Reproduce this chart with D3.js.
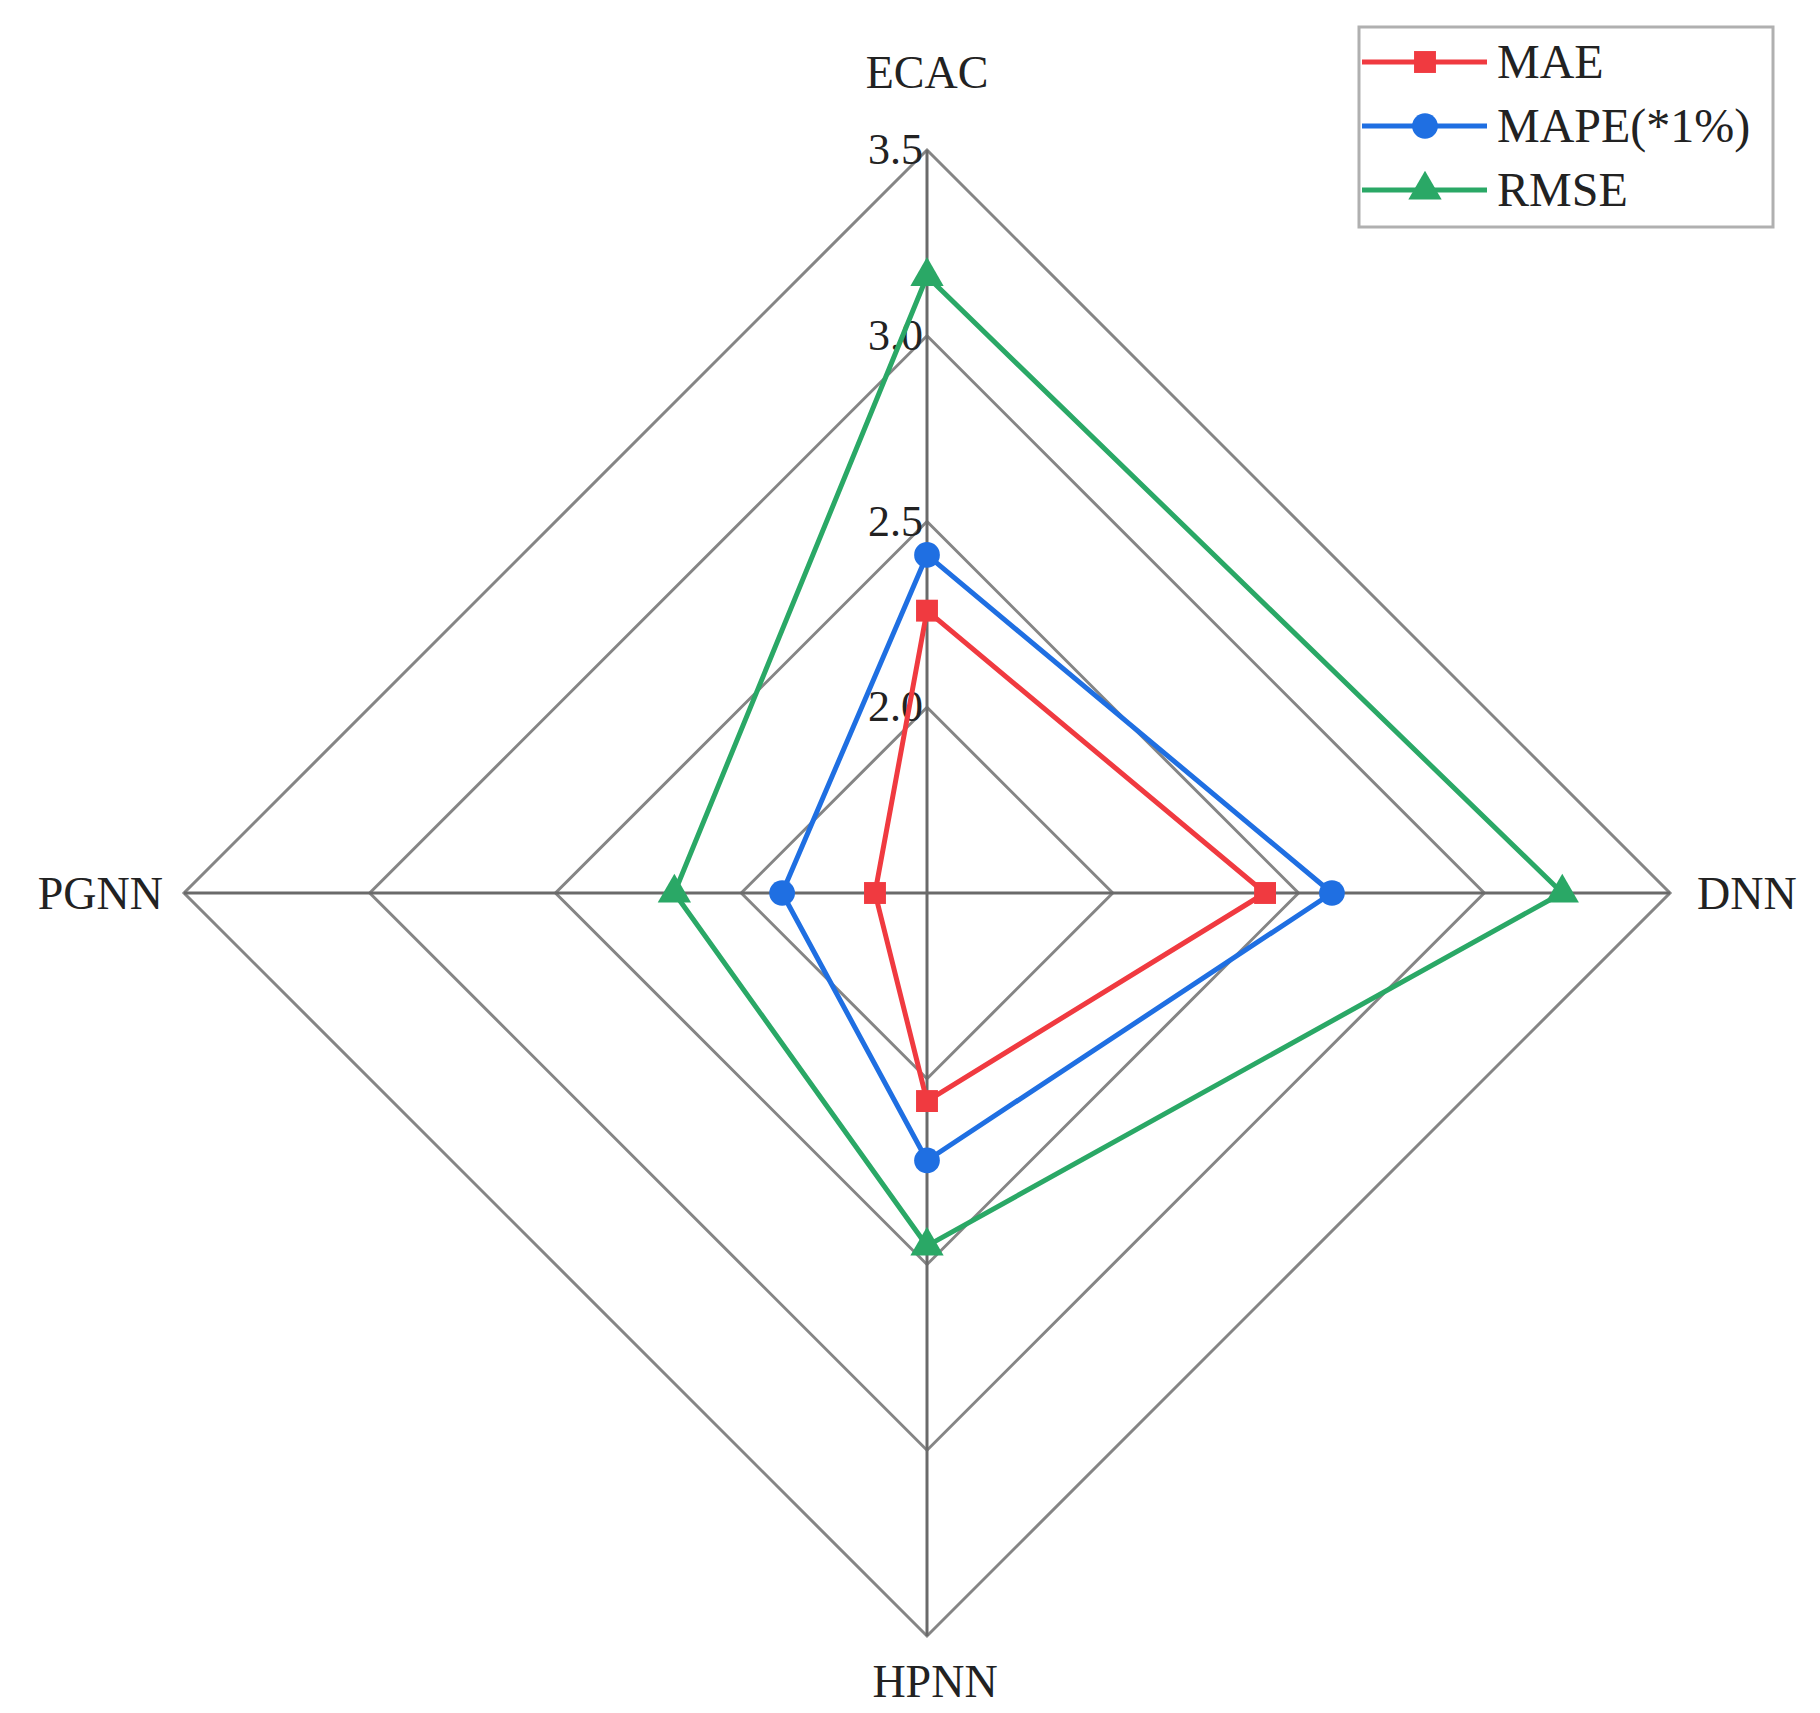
<!DOCTYPE html>
<html lang="en">
<head>
<meta charset="UTF-8">
<title>Radar</title>
<script src="https://d3js.org/d3.v7.min.js"></script>
<style>
  body { margin: 0; background: #fff; }
  text { font-family: "Liberation Serif", "Times New Roman", serif; fill: #222; }
</style>
</head>
<body>
<div id="chart"></div>
<script>
const axes = ["ECAC", "DNN", "HPNN", "PGNN"];
const ticks = [2.0, 2.5, 3.0, 3.5];
const seriesNames = ["MAE", "MAPE(*1%)", "RMSE"];
const maeValues = [2.26, 2.41, 2.06, 1.64];
const mapeValues = [2.41, 2.59, 2.22, 1.89];
const rmseValues = [3.16, 3.21, 2.45, 2.18];

const colors = ["#f03a40", "#1f6fe2", "#2aa866"];
const series = [maeValues, mapeValues, rmseValues];

const W = 1820, H = 1713;
const cx = 927, cy = 893, R = 743;

const svg = d3.select("#chart").append("svg")
  .attr("width", W).attr("height", H);

const r = d3.scaleLinear().domain([1.5, 3.5]).range([0, R]);
const angle = i => i * Math.PI / 2;
const pt = (v, i) => [cx + r(v) * Math.sin(angle(i)), cy - r(v) * Math.cos(angle(i))];

// grid rings
svg.append("g").selectAll("path").data(ticks).join("path")
  .attr("d", t => d3.line()(axes.map((a, i) => pt(t, i))) + "Z")
  .attr("fill", "none").attr("stroke", "#858585").attr("stroke-width", 3);

// spokes
svg.append("g").selectAll("line").data(axes).join("line")
  .attr("x1", cx).attr("y1", cy)
  .attr("x2", (a, i) => pt(3.5, i)[0]).attr("y2", (a, i) => pt(3.5, i)[1])
  .attr("stroke", "#6a6a6a").attr("stroke-width", 3);

// tick labels
svg.append("g").selectAll("text").data(ticks).join("text")
  .attr("x", cx - 4).attr("y", t => cy - r(t) + 14)
  .attr("text-anchor", "end").attr("font-size", 44)
  .text(t => t.toFixed(1));

// axis labels
const labelPos = [
  {x: cx, y: 88, anchor: "middle"},
  {x: 1697, y: cy + 16, anchor: "start"},
  {x: cx + 8, y: 1697, anchor: "middle"},
  {x: 163, y: cy + 16, anchor: "end"}
];
svg.append("g").selectAll("text").data(axes).join("text")
  .attr("x", (a, i) => labelPos[i].x).attr("y", (a, i) => labelPos[i].y)
  .attr("text-anchor", (a, i) => labelPos[i].anchor)
  .attr("font-size", 46).text(a => a);

const symbols = [d3.symbolSquare, d3.symbolCircle, d3.symbolTriangle];
const symSize = [480, 520, 480];

series.forEach((vals, s) => {
  const pts = vals.map((v, i) => pt(v, i));
  svg.append("path")
    .attr("d", d3.line()(pts) + "Z")
    .attr("fill", "none").attr("stroke", colors[s]).attr("stroke-width", 5)
    .attr("stroke-linejoin", "round");
  svg.append("g").selectAll("path").data(pts).join("path")
    .attr("transform", p => `translate(${p[0]},${p[1]})`)
    .attr("d", d3.symbol(symbols[s], symSize[s]))
    .attr("fill", colors[s]);
});

// legend
const lg = svg.append("g");
lg.append("rect").attr("x", 1359).attr("y", 27).attr("width", 414).attr("height", 200)
  .attr("fill", "#fff").attr("stroke", "#b0b0b0").attr("stroke-width", 3);
seriesNames.forEach((name, s) => {
  const y = 62 + s * 64;
  lg.append("line").attr("x1", 1362).attr("x2", 1487).attr("y1", y).attr("y2", y)
    .attr("stroke", colors[s]).attr("stroke-width", 5);
  lg.append("path").attr("transform", `translate(1425,${y})`)
    .attr("d", d3.symbol(symbols[s], symSize[s])).attr("fill", colors[s]);
  lg.append("text").attr("x", 1497).attr("y", y + 16)
    .attr("font-size", 48).text(name);
});
</script>
</body>
</html>
